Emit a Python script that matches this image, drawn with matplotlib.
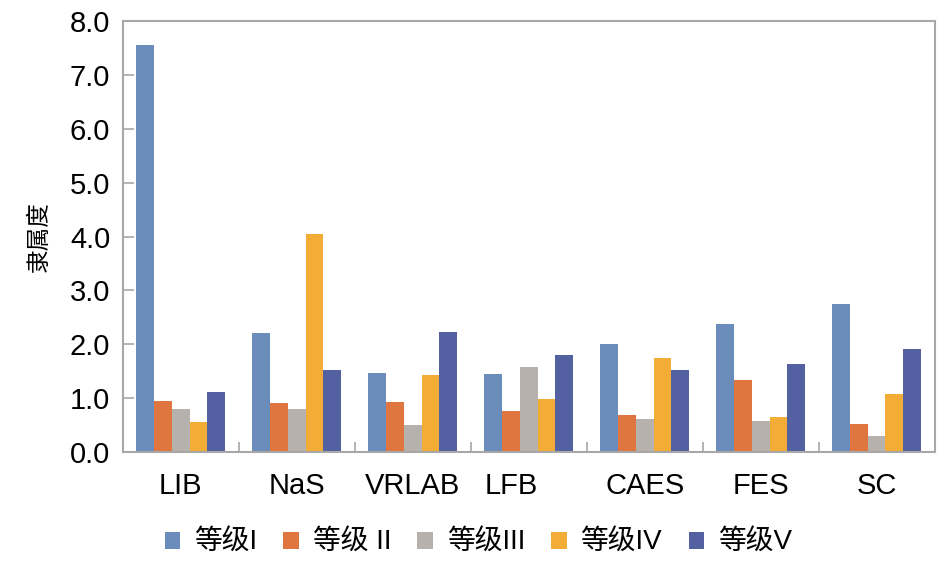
import numpy as np
import matplotlib.pyplot as plt
from matplotlib.patches import Patch

plt.rcParams['font.family'] = ['Liberation Sans', 'Noto Sans CJK SC', 'DejaVu Sans']

categories = ["LIB", "NaS", "VRLAB", "LFB", "CAES", "FES", "SC"]
series_labels = ["等级I", "等级 II", "等级III", "等级IV", "等级V"]
grade1 = [7.55, 2.21, 1.47, 1.45, 2.00, 2.37, 2.75]
grade2 = [0.95, 0.91, 0.93, 0.76, 0.68, 1.33, 0.52]
grade3 = [0.80, 0.80, 0.50, 1.58, 0.61, 0.57, 0.30]
grade4 = [0.56, 4.04, 1.43, 0.98, 1.74, 0.65, 1.08]
grade5 = [1.11, 1.52, 2.23, 1.80, 1.52, 1.63, 1.91]
y_ticks = [0, 1, 2, 3, 4, 5, 6, 7, 8]

COLORS = ["#698cbb", "#e0763f", "#b7b1ad", "#f3ac35", "#5360a1"]
AXIS_GRAY = "#a8a8a8"

fig = plt.figure(figsize=(9.45, 5.68), dpi=100)
ax = fig.add_axes([0.130, 0.204, 0.859, 0.759])

x = np.arange(len(categories))
width = 0.153
series = [grade1, grade2, grade3, grade4, grade5]
for i, values in enumerate(series):
    ax.bar(x + (i - 2) * width, values, width, color=COLORS[i], label=series_labels[i])

ax.set_xlim(-0.5, len(categories) - 0.5)
ax.set_ylim(0, 8)
ax.set_yticks(y_ticks)
ax.set_yticklabels([f"{v:.1f}" for v in y_ticks], fontsize=21)

# label positions: the LFB label sits a little left of its group in the original
label_pos = x.astype(float)
label_pos[categories.index("LFB")] -= 0.15
ax.set_xticks(label_pos)
ax.set_xticklabels(categories, fontsize=21)
ax.set_xticks(np.arange(0.5, len(categories) - 1, 1), minor=True)

ax.tick_params(axis="y", direction="in", length=8, width=1.2, color=AXIS_GRAY, pad=9)
ax.tick_params(axis="x", which="major", length=0, pad=14)
ax.tick_params(axis="x", which="minor", direction="in", length=7, width=1.2, color=AXIS_GRAY)
for spine in ax.spines.values():
    spine.set_color(AXIS_GRAY)
    spine.set_linewidth(1.5)

ax.set_ylabel("隶属度", fontsize=17, family=["Noto Sans CJK SC"], labelpad=14)

handles = [Patch(facecolor=c) for c in COLORS]
fig.legend(handles, series_labels, loc="center", bbox_to_anchor=(0.506, 0.044), ncol=5,
           frameon=False, handlelength=0.55, handleheight=0.55,
           handletextpad=0.5, columnspacing=0.95,
           prop={"family": ["Liberation Sans", "Noto Sans CJK SC"], "size": 20})

fig.savefig("out.png", dpi=100)
